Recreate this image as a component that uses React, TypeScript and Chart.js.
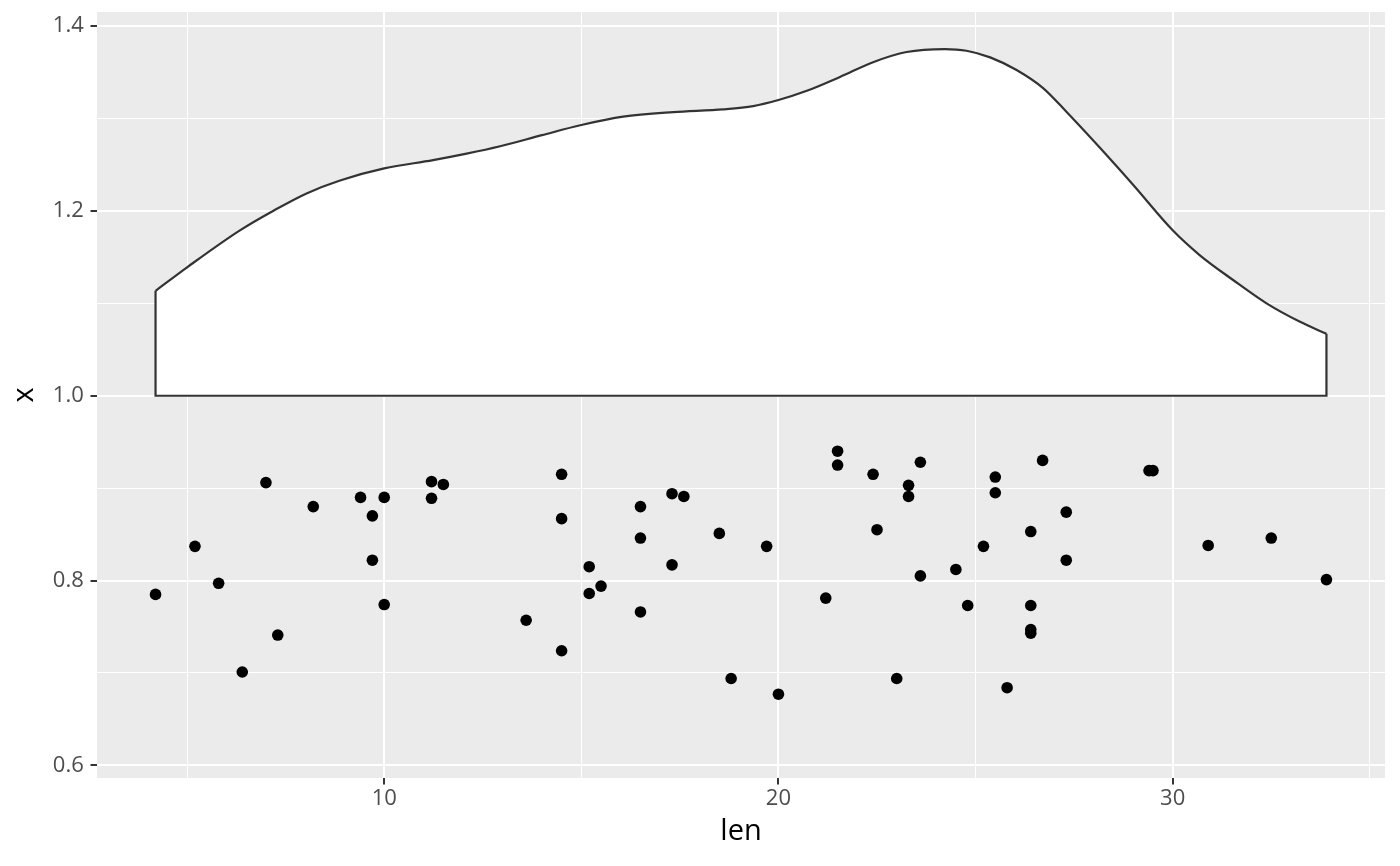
import { useEffect, useRef } from 'react';
import { Chart, registerables } from 'chart.js';

Chart.register(...registerables);

// jittered points: len on the x axis, jittered x on the y axis
const pointLen = [
  4.2, 5.2, 5.8, 6.4, 7.0, 7.3, 8.2, 9.4, 9.7, 9.7,
  10.0, 10.0, 11.2, 11.2, 11.5, 13.6, 14.5, 14.5, 14.5, 15.2,
  15.2, 15.5, 16.5, 16.5, 16.5, 17.3, 17.3, 17.6, 18.5, 18.8,
  19.7, 20.0, 21.2, 21.5, 21.5, 22.4, 22.5, 23.0, 23.3, 23.3,
  23.6, 23.6, 24.5, 24.8, 25.2, 25.5, 25.5, 25.8, 26.4, 26.4,
  26.4, 26.4, 26.7, 27.3, 27.3, 29.4, 29.5, 30.9, 32.5, 33.9,
];
const pointX = [
  0.785, 0.837, 0.797, 0.701, 0.906, 0.741, 0.880, 0.890, 0.870, 0.822,
  0.890, 0.774, 0.907, 0.889, 0.904, 0.757, 0.915, 0.867, 0.724, 0.815,
  0.786, 0.794, 0.880, 0.846, 0.766, 0.894, 0.817, 0.891, 0.851, 0.694,
  0.837, 0.677, 0.781, 0.940, 0.925, 0.915, 0.855, 0.694, 0.903, 0.891,
  0.928, 0.805, 0.812, 0.773, 0.837, 0.912, 0.895, 0.684, 0.853, 0.773,
  0.747, 0.743, 0.930, 0.874, 0.822, 0.919, 0.919, 0.838, 0.846, 0.801,
];

// upper edge of the half violin
const densityLen = [
  4.2, 5.0, 6.34, 7.18, 8.03, 8.88, 10.0, 11.24, 12.09, 12.94,
  14.0, 15.0, 16.06, 17.33, 18.6, 19.36, 20.0, 20.72, 21.56, 22.4,
  23.25, 24.22, 24.77, 25.37, 26.04, 26.72, 27.31, 28.16, 29.0, 30.0,
  30.69, 31.54, 32.38, 33.23, 33.9,
];
const densityX = [
  1.1136, 1.139, 1.179, 1.2, 1.219, 1.233, 1.246, 1.255, 1.262, 1.27,
  1.282, 1.293, 1.302, 1.307, 1.31, 1.3135, 1.32, 1.33, 1.345, 1.361,
  1.372, 1.3752, 1.3734, 1.3662, 1.3525, 1.3327, 1.307, 1.268, 1.228, 1.179,
  1.152, 1.125, 1.1, 1.08, 1.067,
];
const violinBase = 1.0;

const xMajor = [10, 20, 30];
const xMinor = [5, 15, 25, 35];
const yMajor = [0.6, 0.8, 1.0, 1.2, 1.4];
const yMinor = [0.7, 0.9, 1.1, 1.3];

const FONT = '"Open Sans", "Noto Sans", sans-serif';

const near = (list: number[], v: number) => list.some((t) => Math.abs(t - v) < 1e-6);

// grey panel behind the grid, like theme_grey
const panelBg = {
  id: 'panelBg',
  beforeDraw(chart: Chart) {
    const { ctx, chartArea: a } = chart;
    ctx.save();
    ctx.fillStyle = '#EBEBEB';
    ctx.fillRect(a.left, a.top, a.right - a.left, a.bottom - a.top);
    ctx.restore();
  },
};

const App = () => {
  const chartRef = useRef<HTMLCanvasElement>(null);
  const chartInstance = useRef<Chart>();

  useEffect(() => {
    document.body.style.margin = '0';
    if (!chartRef.current) return;
    const ctx = chartRef.current.getContext('2d');
    if (!ctx) return;

    if (chartInstance.current) chartInstance.current.destroy();

    const last = densityLen.length - 1;

    chartInstance.current = new Chart(ctx, {
      type: 'scatter',
      data: {
        datasets: [
          {
            data: pointLen.map((l, i) => ({ x: l, y: pointX[i] })),
            order: 0,
            pointRadius: 5.8,
            pointBackgroundColor: '#000000',
            pointBorderWidth: 0,
            showLine: false,
          },
          {
            data: densityLen.map((l, i) => ({ x: l, y: densityX[i] })),
            order: 2,
            showLine: true,
            borderColor: '#333333',
            borderWidth: 2.2,
            backgroundColor: '#FFFFFF',
            fill: { value: violinBase },
            cubicInterpolationMode: 'monotone',
            pointRadius: 0,
          },
          {
            // sides and base of the half violin
            data: [
              { x: densityLen[0], y: densityX[0] },
              { x: densityLen[0], y: violinBase },
              { x: densityLen[last], y: violinBase },
              { x: densityLen[last], y: densityX[last] },
            ],
            order: 1,
            showLine: true,
            borderColor: '#333333',
            borderWidth: 2.2,
            borderJoinStyle: 'miter',
            tension: 0,
            fill: false,
            pointRadius: 0,
          },
        ],
      },
      options: {
        animation: false,
        responsive: true,
        maintainAspectRatio: false,
        layout: { padding: { left: 0, right: 15, top: 12, bottom: 0 } },
        plugins: { legend: { display: false }, tooltip: { enabled: false } },
        scales: {
          x: {
            type: 'linear',
            min: 2.715,
            max: 35.385,
            afterBuildTicks: (s: any) => {
              s.ticks = [...xMinor, ...xMajor].sort((a, b) => a - b).map((value) => ({ value }));
            },
            afterFit: (s: any) => {
              s.height = 88;
              s.paddingLeft = 0;
              s.paddingRight = 0;
            },
            border: { display: false },
            grid: {
              color: '#FFFFFF',
              lineWidth: (c: any) => (near(xMajor, c.tick.value) ? 2 : 1),
              drawTicks: true,
              tickLength: 6.5,
              tickWidth: 2,
              tickColor: (c: any) => (near(xMajor, c.tick.value) ? '#333333' : 'rgba(0,0,0,0)'),
            },
            ticks: {
              autoSkip: false,
              maxRotation: 0,
              padding: 3.5,
              color: '#4D4D4D',
              font: { family: FONT, size: 22, lineHeight: 1 },
              callback: (v: any) => (near(xMajor, Number(v)) ? String(v) : ''),
            },
            title: {
              display: true,
              text: 'len',
              color: '#000000',
              font: { family: FONT, size: 29, lineHeight: 1.2 },
              padding: { top: 0, bottom: 16.6 },
            },
          },
          y: {
            type: 'linear',
            min: 0.5863,
            max: 1.4153,
            afterBuildTicks: (s: any) => {
              s.ticks = [...yMinor, ...yMajor].sort((a, b) => a - b).map((value) => ({ value }));
            },
            afterFit: (s: any) => {
              s.width = 97;
              s.paddingTop = 0;
              s.paddingBottom = 0;
            },
            border: { display: false },
            grid: {
              color: '#FFFFFF',
              lineWidth: (c: any) => (near(yMajor, c.tick.value) ? 2 : 1),
              drawTicks: true,
              tickLength: 6.5,
              tickWidth: 2,
              tickColor: (c: any) => (near(yMajor, c.tick.value) ? '#333333' : 'rgba(0,0,0,0)'),
            },
            ticks: {
              autoSkip: false,
              padding: 6.7,
              color: '#4D4D4D',
              font: { family: FONT, size: 22, lineHeight: 1 },
              callback: (v: any) => (near(yMajor, Number(v)) ? Number(v).toFixed(1) : ''),
            },
            title: {
              display: true,
              text: 'x',
              color: '#000000',
              font: { family: FONT, size: 29, lineHeight: 1.2 },
              padding: { top: 6.9, bottom: 0 },
            },
          },
        },
      },
      plugins: [panelBg],
    });

    return () => {
      if (chartInstance.current) {
        chartInstance.current.destroy();
        chartInstance.current = undefined;
      }
    };
  }, []);

  return (
    <div style={{ width: 1400, height: 866, position: 'relative' }}>
      <canvas ref={chartRef} />
    </div>
  );
};

export default App;
